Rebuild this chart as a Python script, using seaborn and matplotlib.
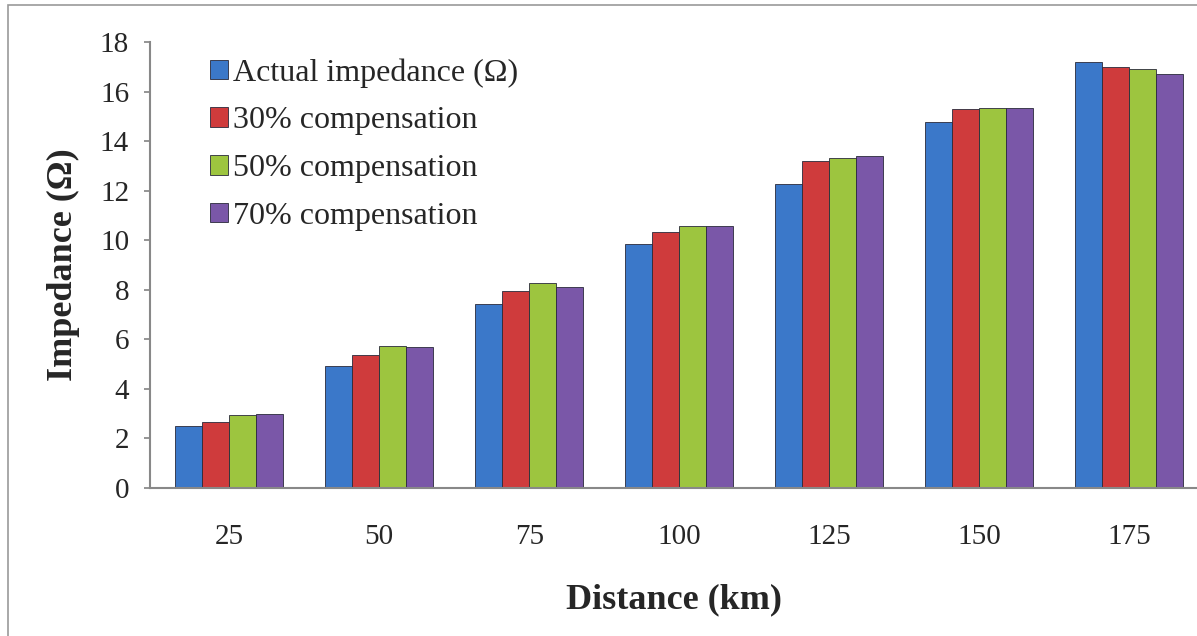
import matplotlib
matplotlib.use("Agg")
import matplotlib.pyplot as plt
import seaborn as sns
import pandas as pd
from matplotlib.patches import Rectangle

distances = ["25", "50", "75", "100", "125", "150", "175"]
series_names = ["Actual impedance (\u03a9)", "30% compensation", "50% compensation", "70% compensation"]
actual = [2.50, 4.92, 7.41, 9.83, 12.26, 14.76, 17.19]
comp30 = [2.66, 5.37, 7.94, 10.33, 13.20, 15.28, 16.99]
comp50 = [2.95, 5.73, 8.26, 10.56, 13.30, 15.32, 16.91]
comp70 = [2.99, 5.69, 8.10, 10.56, 13.38, 15.32, 16.71]

rows = []
for name, vals in zip(series_names, [actual, comp30, comp50, comp70]):
    for d, v in zip(distances, vals):
        rows.append({"Distance": d, "Impedance": v, "Series": name})
df = pd.DataFrame(rows)

sns.set_theme(style="white")
plt.rcParams["font.family"] = ["Liberation Serif", "DejaVu Serif"]

colors = ["#3B78C9", "#CF3B3C", "#9DC53F", "#7A57A8"]

W, H = 1197, 636
fig = plt.figure(figsize=(W / 100, H / 100), dpi=100)
ax = fig.add_axes([150 / W, 1 - 488 / H, (W - 150) / W, (488 - 42) / H])

sns.barplot(data=df, x="Distance", y="Impedance", hue="Series", order=distances,
            hue_order=series_names, palette=colors, width=0.72, saturation=1,
            edgecolor="#2a2a3a", linewidth=0.6, ax=ax)

ax.set_ylim(0, 18)
ax.set_xlim(-0.527, 6.45)
ax.set_yticks(range(0, 19, 2))
ax.set_xlabel("Distance (km)", fontsize=26, fontweight="bold", labelpad=24)
ax.set_ylabel("Impedance (\u03a9)", fontsize=26, fontweight="bold", labelpad=14)
ax.tick_params(axis="y", labelsize=21, direction="out", length=4, color="#888888", left=True, pad=11)
ax.tick_params(axis="x", labelsize=21, length=0, pad=26)
for s in ["top", "right"]:
    ax.spines[s].set_visible(False)
for s in ["left", "bottom"]:
    ax.spines[s].set_color("#888888")
    ax.spines[s].set_linewidth(1.5)

leg = ax.legend(loc="upper left", bbox_to_anchor=(210 / W, 1 - 58 / H),
                bbox_transform=fig.transFigure, frameon=False, fontsize=23,
                handlelength=0.55, handleheight=0.55, handletextpad=0.18, labelspacing=0.59,
                borderpad=0, borderaxespad=0)

fig.patches.append(Rectangle((8 / W, -0.1), 1.2, 1 - 5 / H + 0.1, transform=fig.transFigure,
                             fill=False, edgecolor="#999999", linewidth=1.2))

fig.savefig("out.png", dpi=100)
